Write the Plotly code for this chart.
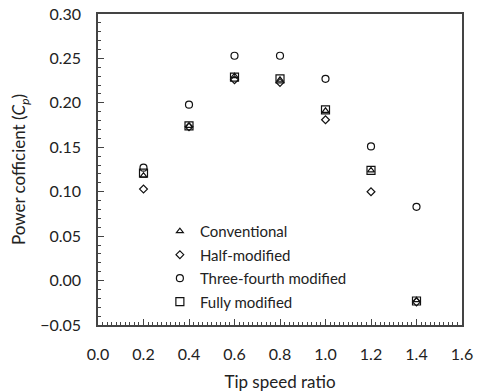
import plotly.graph_objects as go

# Tip speed ratio values
tsr = [0.2, 0.4, 0.6, 0.8, 1.0, 1.2, 1.4]

# Power coefficient for each rotor configuration
cp_conventional = [0.118, 0.174, 0.230, 0.226, 0.191, 0.124, -0.022]
cp_half = [0.103, 0.173, 0.226, 0.223, 0.181, 0.100, -0.024]
cp_three_fourth = [0.127, 0.198, 0.253, 0.253, 0.227, 0.151, 0.083]
cp_fully = [0.121, 0.174, 0.229, 0.227, 0.192, 0.124, -0.023]

series = [
    ("Conventional", cp_conventional, "triangle-up-open", 6),
    ("Half-modified", cp_half, "diamond-open", 6),
    ("Three-fourth modified", cp_three_fourth, "circle-open", 7),
    ("Fully modified", cp_fully, "square-open", 8),
]

font_family = "Lato, 'Open Sans', sans-serif"
text_color = "#222222"

fig = go.Figure()
for i, (name, vals, sym, size) in enumerate(series):
    fig.add_trace(go.Scatter(
        x=tsr, y=vals, mode="markers", name=name,
        legendgroup=f"g{i}",
        marker=dict(symbol=sym, size=size, color="#111111",
                    line=dict(color="#111111", width=1.2)),
    ))

axis_common = dict(
    showline=True, linecolor="#444444", linewidth=1.5, mirror=True,
    ticks="inside", ticklen=6, tickcolor="#444444", tickwidth=1,
    showgrid=False, zeroline=False, automargin=False,
    tickfont=dict(family=font_family, size=16, color=text_color),
)

fig.update_layout(
    width=477, height=392,
    margin=dict(l=98, r=15, t=14, b=67),
    paper_bgcolor="white", plot_bgcolor="white",
    showlegend=True,
    legend=dict(
        x=0.17, y=0.354, xanchor="left", yanchor="top",
        bgcolor="rgba(0,0,0,0)", borderwidth=0,
        font=dict(family=font_family, size=15, color=text_color),
        tracegroupgap=1, itemsizing="trace",
    ),
    xaxis=dict(
        range=[0, 1.6], dtick=0.2, tickformat=".1f",
        ticklabelstandoff=14,
        minor=dict(dtick=0.02, ticks="inside", ticklen=3, tickcolor="#444444"),
        title=dict(text="Tip speed ratio", standoff=18,
                   font=dict(family=font_family, size=17, color=text_color)),
        **axis_common,
    ),
    yaxis=dict(
        range=[-0.05, 0.30], dtick=0.05, tickformat=".2f",
        ticklabelstandoff=12,
        minor=dict(dtick=0.01, ticks="inside", ticklen=3, tickcolor="#444444"),
        title=dict(text="Power cofficient (<i>C</i><sub><i>p</i></sub>)", standoff=10,
                   font=dict(family=font_family, size=17, color=text_color)),
        **axis_common,
    ),
)

fig.write_html("out.html")
